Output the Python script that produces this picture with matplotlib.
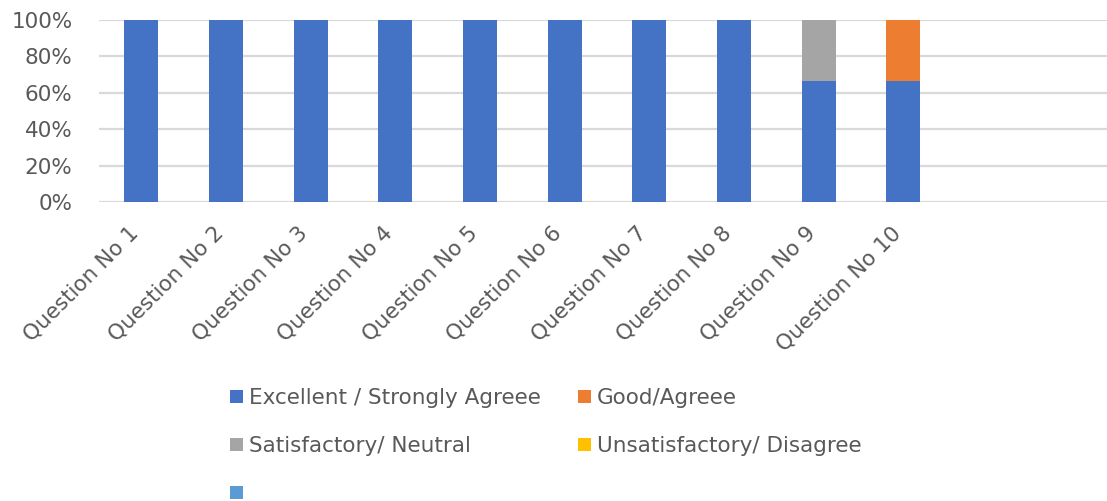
import matplotlib
matplotlib.use("Agg")
import matplotlib.pyplot as plt
import matplotlib.transforms as mtransforms
from matplotlib.patches import Patch
from matplotlib.ticker import FuncFormatter

# Survey responses per question (percent of respondents)
questions = [f"Question No {i}" for i in range(1, 11)]
series_names = [
    "Excellent / Strongly Agreee",
    "Good/Agreee",
    "Satisfactory/ Neutral",
    "Unsatisfactory/ Disagree",
    "",
]
excellent = [100, 100, 100, 100, 100, 100, 100, 100, 66.67, 66.67]
good = [0, 0, 0, 0, 0, 0, 0, 0, 0, 33.33]
satisfactory = [0, 0, 0, 0, 0, 0, 0, 0, 33.33, 0]
unsatisfactory = [0, 0, 0, 0, 0, 0, 0, 0, 0, 0]
unnamed = [0, 0, 0, 0, 0, 0, 0, 0, 0, 0]
y_ticks = [0, 20, 40, 60, 80, 100]

colors = ["#4472C4", "#ED7D31", "#A5A5A5", "#FFC000", "#5B9BD5"]
text_color = "#595959"
grid_color = "#D9D9D9"

plt.rcParams["font.family"] = ["DejaVu Sans"]
FS = 15.5

fig = plt.figure(figsize=(11.07, 5.01), dpi=100)
W, H = 1107, 501
ax = fig.add_axes([99 / W, 299 / H, 1016 / W, 182 / H])

x = list(range(len(questions)))
bottom = [0.0] * len(questions)
for vals, col in zip([excellent, good, satisfactory, unsatisfactory, unnamed], colors):
    ax.bar(x, vals, bottom=bottom, width=0.4, color=col, zorder=3)
    bottom = [b + v for b, v in zip(bottom, vals)]

ax.set_xlim(-0.5, 11.5)
ax.set_ylim(0, 100)
ax.set_yticks(y_ticks)
ax.yaxis.set_major_formatter(FuncFormatter(lambda v, p: f"{v:.0f}%"))
ax.grid(axis="y", color=grid_color, linewidth=1.6, zorder=0)
ax.set_axisbelow(True)
for s in ax.spines.values():
    s.set_visible(False)

ax.set_xticks(x)
ax.set_xticklabels(questions, rotation=45, ha="right", va="center",
                   rotation_mode="anchor")
ax.tick_params(axis="x", length=0, pad=20, labelsize=FS, labelcolor=text_color)
ax.tick_params(axis="y", length=0, pad=19, labelsize=FS, labelcolor=text_color)
shift = mtransforms.ScaledTranslation(-6 / 100, 0, fig.dpi_scale_trans)
for lab in ax.get_xticklabels():
    lab.set_transform(lab.get_transform() + shift)

handles = [Patch(facecolor=c, edgecolor="none") for c in colors]
order = [0, 2, 4, 1, 3]
leg = fig.legend([handles[i] for i in order], [series_names[i] for i in order],
                 ncol=2, loc="upper left", bbox_to_anchor=(230 / W, 1 - 388 / H),
                 frameon=False, fontsize=FS, handlelength=0.6, handleheight=0.6,
                 handletextpad=0.3, columnspacing=1.7, labelspacing=1.3,
                 borderpad=0, borderaxespad=0)
for t in leg.get_texts():
    t.set_color(text_color)

fig.savefig("out.png", dpi=100, facecolor="white")
